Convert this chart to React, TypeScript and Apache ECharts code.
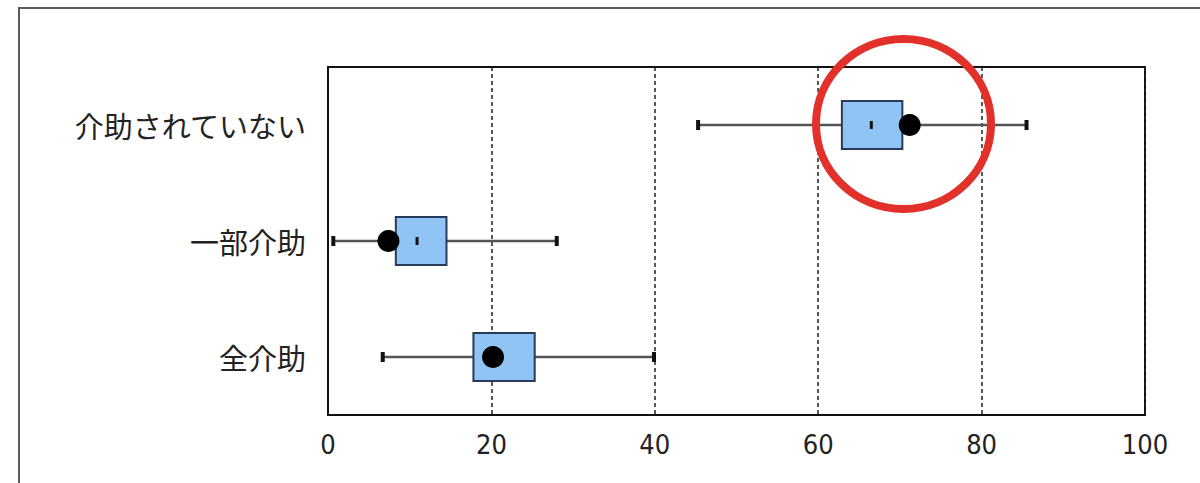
import React, { useEffect, useRef } from "react";
import * as echarts from "echarts";

const categories = ["全介助", "一部介助", "介助されていない"];
const whiskerMin = [6.7, 0.65, 45.3];
const q1 = [17.8, 8.3, 62.9];
const median = [20.3, 10.9, 66.5];
const q3 = [25.3, 14.5, 70.3];
const whiskerMax = [39.9, 28.0, 85.5];
const mean = [20.2, 7.4, 71.2];
const xTicks = [0, 20, 40, 60, 80, 100];

export default function App() {
  const ref = useRef<HTMLDivElement>(null);
  useEffect(() => {
    document.body.style.margin = "0";
    const chart = echarts.init(ref.current!, null, { renderer: "svg" });
    const boxData = categories.map((_, i) => [i, whiskerMin[i], q1[i], median[i], q3[i], whiskerMax[i]]);
    const meanData = categories.map((_, i) => [mean[i], i]);
    chart.setOption({
      animation: false,
      backgroundColor: "#ffffff",
      grid: {
        left: 328,
        top: 67,
        width: 817,
        height: 348,
        show: true,
        borderColor: "#111",
        borderWidth: 2,
        backgroundColor: "transparent",
      },
      xAxis: {
        type: "value",
        min: xTicks[0],
        max: xTicks[xTicks.length - 1],
        interval: 20,
        axisLine: { show: true, lineStyle: { color: "#111", width: 2 } },
        axisTick: { show: false },
        axisLabel: {
          margin: 16,
          fontSize: 27,
          color: "#222",
          fontFamily: "'Liberation Sans Narrow', 'DejaVu Sans Condensed', sans-serif",
        },
        splitLine: { show: true, lineStyle: { color: "#222", width: 1.5, type: [4, 3] } },
      },
      yAxis: {
        type: "category",
        data: categories,
        axisLine: { show: true, lineStyle: { color: "#111", width: 2 } },
        axisTick: { show: false },
        splitLine: { show: false },
        axisLabel: {
          margin: 22,
          fontSize: 29,
          color: "#222",
          fontFamily: "'Noto Sans CJK JP', sans-serif",
        },
      },
      graphic: [
        {
          type: "rect",
          shape: { x: 19, y: 8, width: 1300, height: 600 },
          style: { fill: "none", stroke: "#5a5a5a", lineWidth: 2 },
          z: 0,
        },
        {
          type: "ellipse",
          shape: { cx: 903.5, cy: 124, rx: 87.5, ry: 85 },
          style: { fill: "none", stroke: "#e2302a", lineWidth: 8 },
          z: 100,
        },
      ],
      series: [
        {
          type: "custom",
          data: boxData,
          encode: { x: [1, 2, 3, 4, 5], y: 0 },
          z: 5,
          renderItem: (params: any, api: any) => {
            const c = api.value(0);
            const pMin = api.coord([api.value(1), c]);
            const pQ1 = api.coord([api.value(2), c]);
            const pMed = api.coord([api.value(3), c]);
            const pQ3 = api.coord([api.value(4), c]);
            const pMax = api.coord([api.value(5), c]);
            const band = api.size([0, 1])[1];
            const h = band * 0.415;
            const y = pMin[1];
            return {
              type: "group",
              children: [
                {
                  type: "line",
                  shape: { x1: pMin[0], y1: y, x2: pMax[0], y2: y },
                  style: { stroke: "#555", lineWidth: 2.5 },
                },
                {
                  type: "rect",
                  shape: { x: pMin[0] - 2, y: y - 5, width: 4, height: 10 },
                  style: { fill: "#111" },
                },
                {
                  type: "rect",
                  shape: { x: pMax[0] - 2, y: y - 5, width: 4, height: 10 },
                  style: { fill: "#111" },
                },
                {
                  type: "rect",
                  shape: { x: pQ1[0], y: y - h / 2, width: pQ3[0] - pQ1[0], height: h },
                  style: { fill: "#90c4f4", stroke: "#2a3a5a", lineWidth: 2 },
                },
                {
                  type: "rect",
                  shape: { x: pMed[0] - 1.5, y: y - 4, width: 3, height: 8 },
                  style: { fill: "#111" },
                },
              ],
            };
          },
        },
        {
          type: "scatter",
          data: meanData,
          symbol: "circle",
          symbolSize: 22,
          itemStyle: { color: "#000", opacity: 1 },
          z: 10,
        },
      ],
    });
    return () => chart.dispose();
  }, []);
  return <div ref={ref} style={{ width: 1200, height: 483 }} />;
}
